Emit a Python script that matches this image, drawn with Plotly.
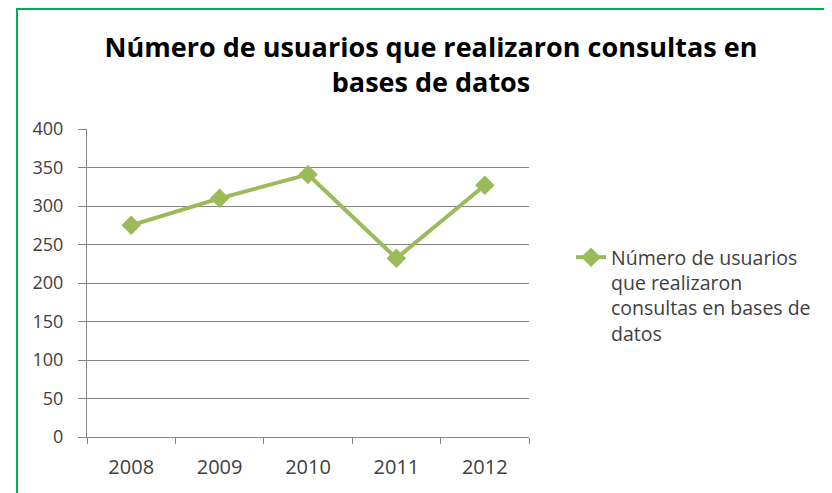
import plotly.graph_objects as go

years = ["2008", "2009", "2010", "2011", "2012"]
usuarios = [275, 310, 341, 232, 327]
series_name = "Número de usuarios<br>que realizaron<br>consultas en bases de<br>datos"
title_text = "Número de usuarios que realizaron consultas en<br>bases de datos"
y_ticks = [0, 50, 100, 150, 200, 250, 300, 350, 400]

# page body has an 8px margin; work in screen pixels and convert
OFF = 8
W, H = 832 - OFF, 493 - OFF
L, T = 87 - OFF, 129 - OFF
R = W - (529 - OFF)
B = H - (437 - OFF)
pw, ph = W - L - R, H - T - B

def px_x(sx):
    return (sx - OFF - L) / pw

def px_y(sy):
    return (H - B - (sy - OFF)) / ph

fig = go.Figure()
fig.add_trace(go.Scatter(
    x=years, y=usuarios, name=series_name, mode="lines+markers",
    line=dict(color="#9BBB59", width=4),
    marker=dict(symbol="diamond", size=15, color="#9BBB59"),
))

font_family = "Open Sans, sans-serif"
fig.update_layout(
    width=W, height=H,
    margin=dict(l=L, r=R, t=T, b=B),
    paper_bgcolor="white", plot_bgcolor="white",
    font=dict(family=font_family, color="#404040", size=16),
    title=dict(text=title_text, x=(431 - OFF) / W, xanchor="center",
               y=1 - (57 - OFF) / H, yanchor="top",
               font=dict(family=font_family, size=27, color="black", weight="bold")),
    showlegend=True,
    legend=dict(x=px_x(571), y=px_y(238), xanchor="left", yanchor="top",
                valign="top",
                font=dict(size=19.5, color="#404040"), bgcolor="rgba(0,0,0,0)",
                tracegroupgap=0),
    xaxis=dict(type="category", showgrid=False, showline=True, linecolor="#868686",
               linewidth=1, ticks="outside", tickson="boundaries", ticklen=6,
               tickcolor="#868686", tickfont=dict(size=20, color="#404040"),
               range=[-0.5, 4.5], ticklabelstandoff=12),
    yaxis=dict(range=[0, 400], tickvals=y_ticks, showgrid=True, gridcolor="#868686",
               gridwidth=1, showline=True, linecolor="#868686", linewidth=1,
               ticks="outside", ticklen=8, tickcolor="#868686",
               tickfont=dict(size=18, color="#404040"), zeroline=False,
               ticklabelstandoff=11),
    shapes=[dict(type="rect", xref="paper", yref="paper",
                 x0=px_x(17), x1=px_x(860), y0=px_y(520), y1=px_y(OFF + 1),
                 line=dict(color="#00B050", width=2), fillcolor="rgba(0,0,0,0)",
                 layer="above")],
)

fig.write_html("out.html")
